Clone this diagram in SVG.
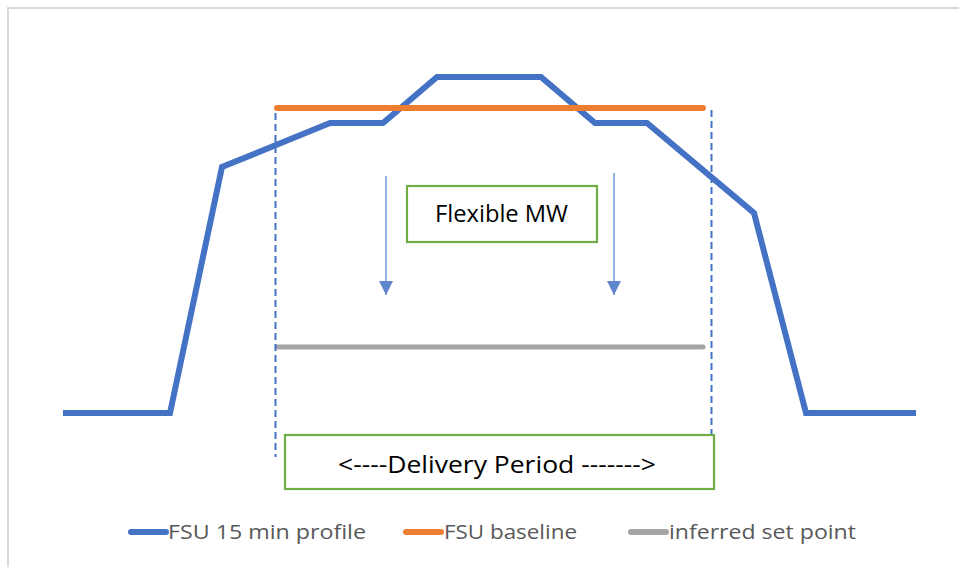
<svg xmlns="http://www.w3.org/2000/svg" width="959" height="567" viewBox="0 0 959 567">
<defs>
<style>
.frame{fill:#fff;stroke:#D9D9D9;stroke-width:2}
.profile{fill:none;stroke:#4472C4;stroke-width:6;stroke-linejoin:miter}
.base{fill:none;stroke:#ED7D31;stroke-width:6;stroke-linecap:round}
.setp{fill:none;stroke:#A5A5A5;stroke-width:5;stroke-linecap:round}
.dash{fill:none;stroke:#4472C4;stroke-width:2;stroke-dasharray:7,4}
.arr{fill:none;stroke:#4472C4;stroke-width:1.3;opacity:0.85}
.box{fill:#fff;stroke:#70AD47;stroke-width:2.2}
.lbl{font-family:"Segoe UI","Open Sans","Noto Sans","Liberation Sans",sans-serif;fill:#000}
.leg{font-family:"Segoe UI","Open Sans","Noto Sans","Liberation Sans",sans-serif;fill:#595959;font-size:20px}
</style>
<marker id="ah" viewBox="0 0 10 10" refX="10" refY="5" markerWidth="14" markerHeight="14" markerUnits="userSpaceOnUse" orient="auto">
<path d="M0,0 L10,5 L0,10 Z" fill="#4472C4"/>
</marker>
</defs>
<rect class="frame" x="8" y="8" width="970" height="580"/>
<g id="series">
<polyline id="profile" class="profile" points="63,413 170,413 222,167 330,123 383,123 437,77 541,77 595,123 647,123 754,213 806,413 916,413"/>
<line id="baseline" class="base" x1="277" y1="108" x2="703" y2="108"/>
<line id="setpoint" class="setp" x1="277" y1="347" x2="703" y2="347"/>
</g>
<g id="connectors">
<line class="dash" x1="275.5" y1="113" x2="275.5" y2="457"/>
<line class="dash" x1="711.5" y1="110" x2="711.5" y2="436"/>
<line class="arr" x1="386" y1="176" x2="386" y2="295" marker-end="url(#ah)"/>
<line class="arr" x1="614" y1="173" x2="614" y2="295" marker-end="url(#ah)"/>
</g>
<g id="flexible">
<rect class="box" x="407" y="186" width="190" height="56"/>
<text class="lbl" x="435" y="222" font-size="23" textLength="133" lengthAdjust="spacingAndGlyphs">Flexible MW</text>
</g>
<g id="delivery">
<rect class="box" x="285" y="435" width="429" height="54"/>
<text class="lbl" x="338" y="473" font-size="23" textLength="318" lengthAdjust="spacingAndGlyphs">&lt;----Delivery Period -------&gt;</text>
</g>
<g id="legend">
<line x1="131" y1="532" x2="166" y2="532" stroke="#4472C4" stroke-width="6" stroke-linecap="round"/>
<text class="leg" x="168" y="539" textLength="198" lengthAdjust="spacingAndGlyphs">FSU 15 min profile</text>
<line x1="406" y1="532" x2="441" y2="532" stroke="#ED7D31" stroke-width="6" stroke-linecap="round"/>
<text class="leg" x="444" y="539" textLength="133" lengthAdjust="spacingAndGlyphs">FSU baseline</text>
<line x1="631" y1="532" x2="666" y2="532" stroke="#A5A5A5" stroke-width="6" stroke-linecap="round"/>
<text class="leg" x="669" y="539" textLength="187" lengthAdjust="spacingAndGlyphs">inferred set point</text>
</g>
</svg>
